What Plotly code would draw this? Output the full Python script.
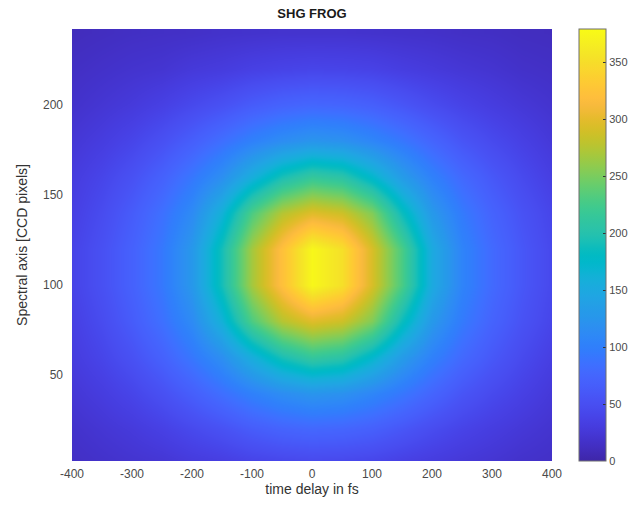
import plotly.graph_objects as go

# Time delay axis (fs) and spectral axis (CCD pixel rows) of the sampled trace
delay_fs = [-400, -350, -300, -250, -200, -150, -100, -50, 0, 50, 100, 150, 200, 250, 300, 350, 400]
ccd_pixel = [0, 20, 40, 60, 80, 100, 120, 140, 160, 180, 200, 220, 240]

# SHG FROG intensity, one row per CCD pixel row (counts)
row_000 = [14, 17, 20, 22, 27, 30, 35, 38, 40, 39, 37, 32, 28, 24, 21, 17, 15]
row_020 = [18, 23, 28, 35, 44, 53, 64, 72, 76, 74, 68, 58, 47, 38, 31, 25, 20]
row_040 = [24, 31, 40, 52, 67, 84, 102, 116, 125, 121, 108, 92, 74, 57, 45, 35, 26]
row_060 = [30, 40, 53, 70, 92, 118, 157, 193, 214, 205, 173, 133, 102, 78, 60, 45, 33]
row_080 = [34, 47, 64, 85, 113, 162, 230, 275, 297, 287, 253, 186, 129, 95, 72, 54, 40]
row_100 = [38, 52, 70, 93, 128, 191, 268, 322, 375, 352, 292, 228, 151, 105, 79, 59, 43]
row_120 = [38, 52, 70, 93, 128, 191, 268, 322, 375, 352, 292, 228, 151, 105, 79, 59, 43]
row_140 = [34, 47, 64, 85, 113, 162, 230, 275, 297, 287, 253, 186, 129, 95, 72, 54, 40]
row_160 = [30, 40, 53, 70, 92, 118, 157, 193, 214, 205, 173, 133, 102, 78, 60, 45, 33]
row_180 = [24, 31, 40, 52, 67, 84, 102, 116, 125, 121, 108, 92, 74, 57, 45, 35, 26]
row_200 = [18, 23, 28, 35, 44, 53, 64, 72, 76, 74, 68, 58, 47, 38, 31, 25, 20]
row_220 = [14, 17, 20, 22, 27, 30, 35, 38, 40, 39, 37, 32, 28, 24, 21, 17, 15]
row_240 = [10, 12, 14, 15, 16, 18, 19, 20, 20, 20, 19, 18, 17, 15, 14, 12, 11]

intensity = [row_000, row_020, row_040, row_060, row_080, row_100, row_120,
             row_140, row_160, row_180, row_200, row_220, row_240]

x_ticks = [-400, -300, -200, -100, 0, 100, 200, 300, 400]
x_tick_text = ["-400", "-300", "-200", "-100", "0", "100", "200", "300", "400"]
y_ticks = [50, 100, 150, 200]
cbar_ticks = [0, 50, 100, 150, 200, 250, 300, 350]
color_max = 379

# parula colormap (64 entries)
parula = [
    (0.2422, 0.1504, 0.6603), (0.2504, 0.1650, 0.7076), (0.2578, 0.1818, 0.7511), (0.2647, 0.1978, 0.7952),
    (0.2706, 0.2147, 0.8364), (0.2751, 0.2342, 0.8710), (0.2783, 0.2559, 0.8991), (0.2803, 0.2782, 0.9221),
    (0.2813, 0.3006, 0.9414), (0.2810, 0.3228, 0.9579), (0.2795, 0.3447, 0.9717), (0.2760, 0.3667, 0.9829),
    (0.2699, 0.3892, 0.9906), (0.2602, 0.4123, 0.9952), (0.2440, 0.4358, 0.9988), (0.2206, 0.4603, 0.9973),
    (0.1963, 0.4847, 0.9892), (0.1834, 0.5074, 0.9798), (0.1786, 0.5289, 0.9682), (0.1764, 0.5499, 0.9520),
    (0.1687, 0.5703, 0.9359), (0.1540, 0.5902, 0.9218), (0.1460, 0.6091, 0.9079), (0.1380, 0.6276, 0.8973),
    (0.1248, 0.6459, 0.8883), (0.1113, 0.6635, 0.8763), (0.0952, 0.6798, 0.8598), (0.0689, 0.6948, 0.8394),
    (0.0297, 0.7082, 0.8163), (0.0036, 0.7197, 0.7917), (0.0067, 0.7291, 0.7660), (0.0433, 0.7379, 0.7394),
    (0.0964, 0.7495, 0.7120), (0.1408, 0.7557, 0.6842), (0.1717, 0.7646, 0.6554), (0.1938, 0.7732, 0.6251),
    (0.2161, 0.7824, 0.5923), (0.2470, 0.7918, 0.5567), (0.2906, 0.7973, 0.5188), (0.3406, 0.8008, 0.4789),
    (0.3909, 0.8029, 0.4354), (0.4456, 0.8024, 0.3909), (0.5044, 0.7993, 0.3480), (0.5616, 0.7942, 0.3045),
    (0.6174, 0.7876, 0.2612), (0.6720, 0.7793, 0.2227), (0.7242, 0.7698, 0.1910), (0.7738, 0.7598, 0.1646),
    (0.8203, 0.7498, 0.1535), (0.8634, 0.7406, 0.1596), (0.9035, 0.7330, 0.1774), (0.9393, 0.7288, 0.2100),
    (0.9728, 0.7298, 0.2394), (0.9956, 0.7434, 0.2371), (0.9970, 0.7659, 0.2199), (0.9952, 0.7893, 0.2028),
    (0.9892, 0.8136, 0.1885), (0.9786, 0.8386, 0.1766), (0.9676, 0.8639, 0.1643), (0.9610, 0.8890, 0.1537),
    (0.9597, 0.9135, 0.1423), (0.9628, 0.9373, 0.1265), (0.9691, 0.9606, 0.1064), (0.9769, 0.9839, 0.0805),
]
n = len(parula)
colorscale = [[i / (n - 1), "rgb(%d,%d,%d)" % tuple(round(c * 255) for c in rgb)]
              for i, rgb in enumerate(parula)]

font = "Liberation Sans, Arial, sans-serif"
tick_color = "#4a4a4a"

fig = go.Figure(go.Heatmap(
    x=delay_fs,
    y=ccd_pixel,
    z=intensity,
    zmin=0,
    zmax=color_max,
    zsmooth="best",
    colorscale=colorscale,
    colorbar=dict(
        x=1.056, xanchor="left", xpad=0,
        y=0.5, yanchor="middle", ypad=0,
        len=1, lenmode="fraction",
        thickness=27, thicknessmode="pixels",
        outlinewidth=1, outlinecolor="#6f6f6f",
        tickvals=cbar_ticks,
        ticks="inside", ticklen=3, tickcolor="#333333",
        tickfont=dict(family=font, size=11, color=tick_color),
    ),
))

fig.update_layout(
    width=636,
    height=516,
    margin=dict(l=72, r=84, t=29, b=55, autoexpand=False),
    paper_bgcolor="white",
    plot_bgcolor="white",
    font=dict(family=font, color=tick_color),
    title=dict(
        text="<b>SHG FROG</b>",
        x=(72 + 552) / 2 / 636, xanchor="center",
        y=1 - 13 / 516, yanchor="middle",
        font=dict(family=font, size=13, color="#1a1a1a"),
    ),
    xaxis=dict(
        range=[-400, 400],
        tickvals=x_ticks,
        ticktext=x_tick_text,
        ticks="", showgrid=False, zeroline=False, showline=False,
        ticklabelstandoff=4,
        tickfont=dict(family=font, size=12, color=tick_color),
        title=dict(text="time delay in fs", standoff=4,
                   font=dict(family=font, size=14, color="#333333")),
    ),
    yaxis=dict(
        range=[2, 242],
        tickvals=y_ticks,
        ticks="", showgrid=False, zeroline=False, showline=False,
        ticklabelstandoff=8,
        tickfont=dict(family=font, size=12, color=tick_color),
        title=dict(text="Spectral axis [CCD pixels]", standoff=12,
                   font=dict(family=font, size=14, color="#333333")),
    ),
)

fig.write_html("out.html")
